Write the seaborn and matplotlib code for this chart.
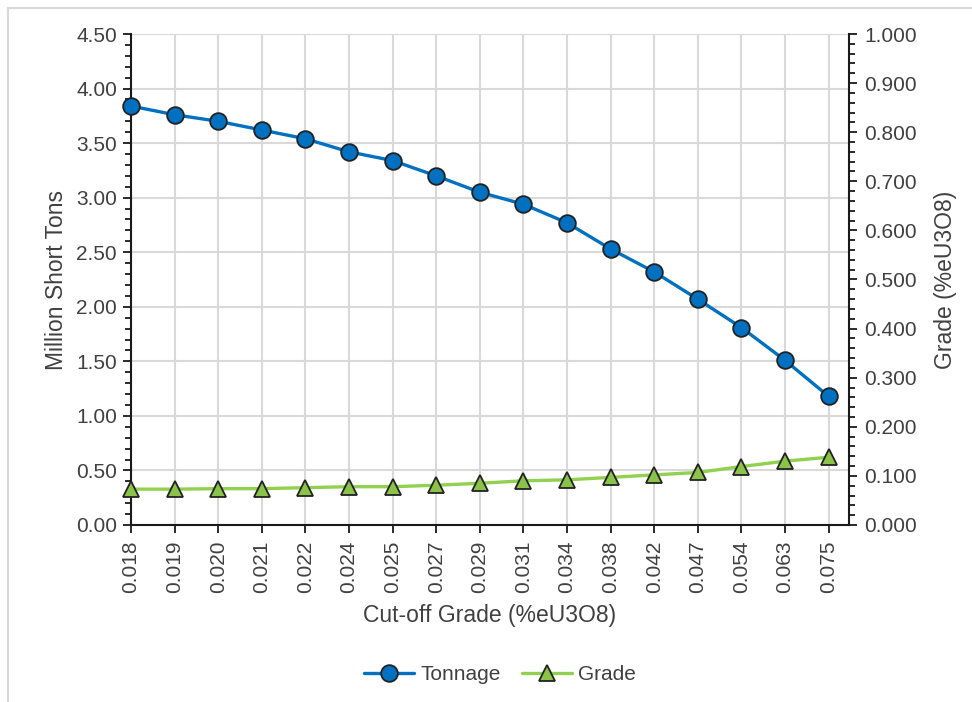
import matplotlib
matplotlib.use("Agg")
import matplotlib.pyplot as plt
import seaborn as sns
import pandas as pd
from matplotlib.ticker import MultipleLocator, FormatStrFormatter
from matplotlib.lines import Line2D

cutoff = ["0.018", "0.019", "0.020", "0.021", "0.022", "0.024", "0.025", "0.027",
          "0.029", "0.031", "0.034", "0.038", "0.042", "0.047", "0.054", "0.063", "0.075"]
tonnage = [3.84, 3.76, 3.70, 3.62, 3.54, 3.42, 3.34, 3.20, 3.05, 2.94, 2.77,
           2.53, 2.32, 2.07, 1.81, 1.51, 1.18]
grade = [0.073, 0.073, 0.074, 0.074, 0.076, 0.078, 0.078, 0.081, 0.085, 0.090,
         0.092, 0.097, 0.102, 0.107, 0.119, 0.130, 0.138]

df = pd.DataFrame({"cutoff": cutoff, "tonnage": tonnage, "grade": grade})

sns.set_style("white")
plt.rcParams["font.family"] = ["Liberation Sans", "DejaVu Sans"]
plt.rcParams["font.size"] = 15

W, H = 972, 702
fig = plt.figure(figsize=(W / 100, H / 100), dpi=100)
left, right, top, bottom = 131, 849, 34, 525
ax = fig.add_axes([left / W, 1 - bottom / H, (right - left) / W, (bottom - top) / H])
ax2 = ax.twinx()

blue = "#0070C0"
green = "#92D050"
sns.lineplot(data=df, x="cutoff", y="tonnage", ax=ax, color=blue, lw=2.4,
             marker="o", markersize=12, markerfacecolor=blue,
             markeredgecolor="#222222", markeredgewidth=1.3, label="Tonnage",
             legend=False, zorder=5, clip_on=False)
sns.lineplot(data=df, x="cutoff", y="grade", ax=ax2, color=green, lw=2.4,
             marker="^", markersize=11, markerfacecolor="#8BC34A",
             markeredgecolor="#222222", markeredgewidth=1.3, label="Grade",
             legend=False, zorder=5, clip_on=False)

ax.set_xlim(0, 16.47)
ax.set_ylim(0, 4.5)
ax2.set_ylim(0, 1.0)

ax.yaxis.set_major_locator(MultipleLocator(0.5))
ax.yaxis.set_minor_locator(MultipleLocator(0.1))
ax.yaxis.set_major_formatter(FormatStrFormatter("%.2f"))
ax2.yaxis.set_major_locator(MultipleLocator(0.1))
ax2.yaxis.set_minor_locator(MultipleLocator(0.02))
ax2.yaxis.set_major_formatter(FormatStrFormatter("%.3f"))

ax.grid(True, which="major", color="#d9d9d9", lw=1.5)
ax.set_axisbelow(True)
ax2.grid(False)

for a in (ax, ax2):
    a.spines["top"].set_visible(False)
    for s in a.spines.values():
        s.set_color("#1a1a1a")
        s.set_linewidth(1.5)
ax.spines["right"].set_visible(False)
ax2.spines["left"].set_visible(False)
ax2.spines["bottom"].set_visible(False)

tc = "#404040"
ax.tick_params(axis="y", which="major", direction="out", length=6, width=1.3,
               colors="#1a1a1a", labelcolor=tc, labelsize=15, pad=4, left=True)
ax.tick_params(axis="y", which="minor", direction="out", length=4, width=1.3,
               colors="#1a1a1a", left=True)
ax.tick_params(axis="x", which="major", direction="out", length=6, width=1.3,
               colors="#1a1a1a", labelcolor=tc, labelsize=15, pad=5,
               labelrotation=90, bottom=True)
ax2.tick_params(axis="y", which="major", direction="out", length=6, width=1.3,
                colors="#1a1a1a", labelcolor=tc, labelsize=15, pad=5, right=True)
ax2.tick_params(axis="y", which="minor", direction="out", length=4, width=1.3,
                colors="#1a1a1a", right=True)

ax.set_xlabel("Cut-off Grade (%eU3O8)", fontsize=16.5, color=tc, labelpad=8)
ax.set_ylabel("Million Short Tons", fontsize=16.5, color=tc, labelpad=6)
ax2.set_ylabel("Grade (%eU3O8)", fontsize=16.5, color=tc, labelpad=12)

handles = [ax.get_lines()[0], ax2.get_lines()[0]]
fig.legend(handles, ["Tonnage", "Grade"], loc="center", bbox_to_anchor=(500 / W, 1 - 675 / H),
           ncol=2, frameon=False, fontsize=15, labelcolor=tc,
           handlelength=2.4, columnspacing=1.0, handletextpad=0.3)

fig.add_artist(Line2D([8 / W, 8 / W], [0, 1 - 8 / H], transform=fig.transFigure,
                      color="#d9d9d9", lw=1.5))
fig.add_artist(Line2D([8 / W, 1], [1 - 8 / H, 1 - 8 / H], transform=fig.transFigure,
                      color="#d9d9d9", lw=1.5))

fig.savefig("out.png", dpi=100, facecolor="white")
